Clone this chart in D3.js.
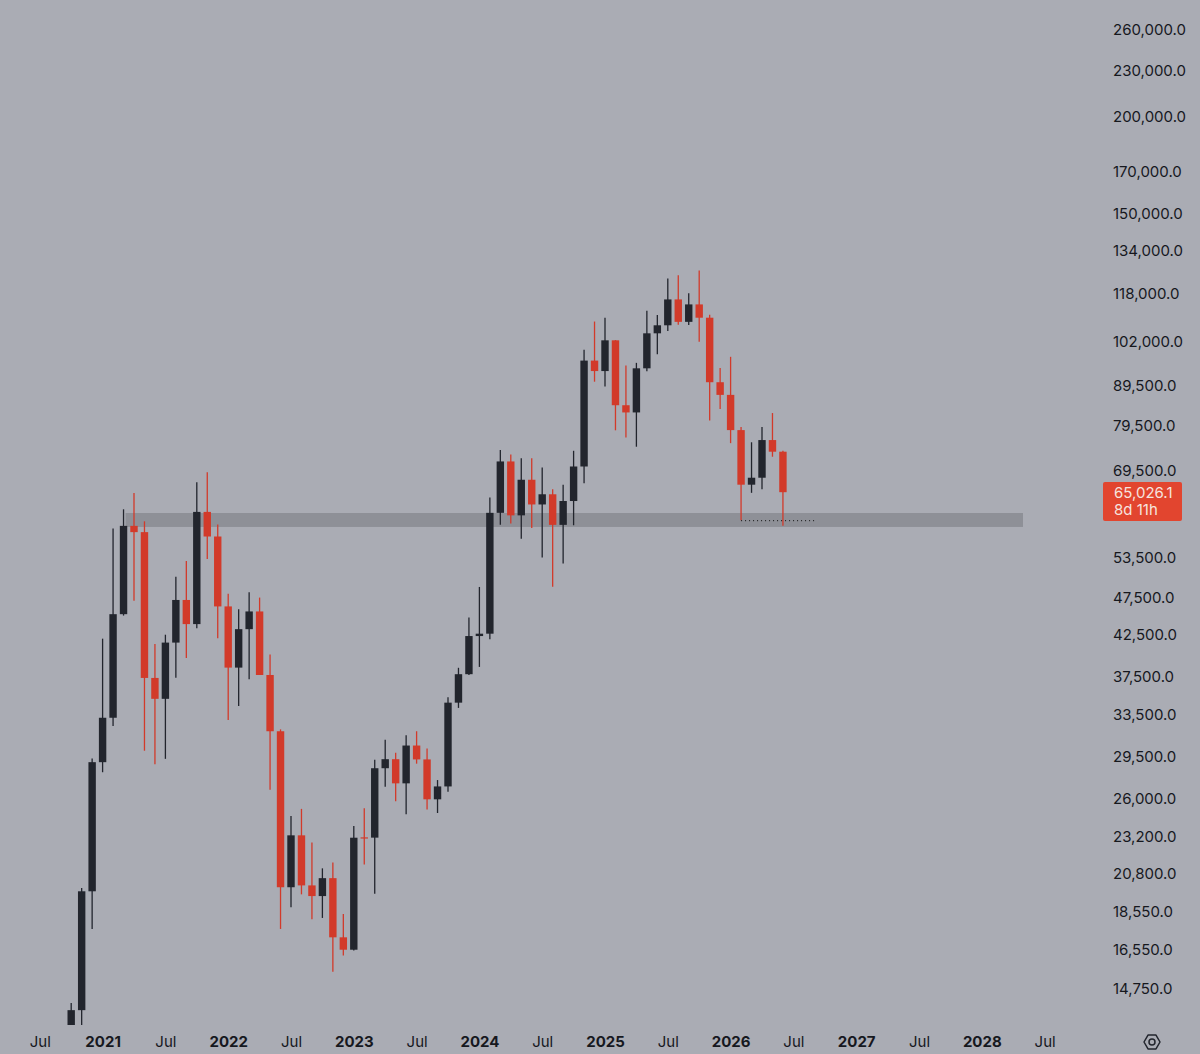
<!DOCTYPE html>
<html>
<head>
<meta charset="utf-8">
<script src="https://cdn.jsdelivr.net/npm/d3@7"></script>
<style>
  html, body { margin: 0; padding: 0; background: #aaacb4; }
  svg { display: block; }
  .axis text { font-family: Inter, "Noto Sans", sans-serif; fill: #16181e; }
</style>
</head>
<body>
<div id="chart-area"></div>
<script>
// monthly candles, Oct 2020 .. Jun 2026
const months = [
	"2020-10","2020-11","2020-12",
	"2021-01","2021-02","2021-03","2021-04","2021-05","2021-06","2021-07","2021-08","2021-09","2021-10","2021-11","2021-12",
	"2022-01","2022-02","2022-03","2022-04","2022-05","2022-06","2022-07","2022-08","2022-09","2022-10","2022-11","2022-12",
	"2023-01","2023-02","2023-03","2023-04","2023-05","2023-06","2023-07","2023-08","2023-09","2023-10","2023-11","2023-12",
	"2024-01","2024-02","2024-03","2024-04","2024-05","2024-06","2024-07","2024-08","2024-09","2024-10","2024-11","2024-12",
	"2025-01","2025-02","2025-03","2025-04","2025-05","2025-06","2025-07","2025-08","2025-09","2025-10","2025-11","2025-12",
	"2026-01","2026-02","2026-03","2026-04","2026-05","2026-06"
];
const opens = [
	10776, 13804, 19700,
	28990, 33110, 45140, 58790, 57700, 37300, 35040, 41460, 47100, 43820, 61300, 56950,
	46200, 38470, 43160, 45510, 37630, 31800, 19940, 23290, 20050, 19420, 20490, 17165,
	16540, 23150, 23130, 28470, 29250, 27210, 30470, 29230, 25940, 26960, 34640, 37720,
	42280, 42580, 61130, 71290, 60670, 67490, 62680, 64620, 58970, 63330, 70220, 96400,
	93430, 102430, 84350, 82550, 94200, 104600, 107140, 115760, 108250, 114050, 109600, 90360,
	87000, 78300, 66500, 67900, 76000, 73400
];
const highs = [
	14100, 19900, 29300,
	41950, 58350, 61780, 64850, 59600, 41300, 42450, 50500, 52920, 67000, 69000, 59050,
	47990, 45800, 48190, 47440, 40000, 31980, 24670, 25210, 22800, 21100, 21480, 18400,
	23950, 25250, 29200, 31000, 29820, 31430, 31800, 30200, 27480, 35200, 38450, 44700,
	48970, 64000, 73780, 72800, 71980, 71950, 70000, 65600, 66500, 73600, 99600, 108350,
	109600, 102500, 95000, 95750, 111900, 110500, 123200, 124450, 117900, 126200, 110600, 94300,
	97500, 79000, 75500, 79000, 82400, 73600
];
const lows = [
	10400, 13200, 17600,
	28130, 32300, 44950, 47000, 30000, 28800, 29280, 37330, 39600, 43280, 53250, 42000,
	32900, 34300, 37150, 37700, 26700, 17600, 18780, 19520, 18125, 18190, 15480, 16260,
	16500, 21350, 19550, 26940, 25800, 24800, 28860, 25170, 24900, 26540, 34100, 37620,
	38550, 41880, 59000, 59190, 56550, 58400, 53500, 49000, 52550, 58900, 66800, 90500,
	89200, 78250, 76600, 74500, 93400, 98250, 105300, 107300, 107250, 102000, 80600, 83400,
	75300, 59800, 64900, 65600, 72300, 58800
];
const closes = [
	13804, 19700, 28990,
	33110, 45140, 58790, 57700, 37300, 35040, 41460, 47100, 43820, 61300, 56950, 46200,
	38470, 43160, 45510, 37630, 31800, 19940, 23290, 20050, 19420, 20490, 17165, 16540,
	23125, 23130, 28470, 29250, 27210, 30470, 29230, 25940, 26960, 34640, 37720, 42280,
	42580, 61130, 71290, 60670, 67490, 62680, 64620, 58970, 63330, 70220, 96400, 93430,
	102430, 84350, 82550, 94200, 104600, 107140, 115760, 108250, 114050, 109600, 90360, 87000,
	78300, 66500, 67900, 76000, 73400, 65026.1
];

const priceTicks = [260000, 230000, 200000, 170000, 150000, 134000, 118000, 102000, 89500, 79500, 69500,
	53500, 47500, 42500, 37500, 33500, 29500, 26000, 23200, 20800, 18550, 16550, 14750];
// month index from Jan 2021, label
const timeTicks = [
	[-6, "Jul"], [0, "2021"], [6, "Jul"], [12, "2022"], [18, "Jul"], [24, "2023"], [30, "Jul"],
	[36, "2024"], [42, "Jul"], [48, "2025"], [54, "Jul"], [60, "2026"], [66, "Jul"],
	[72, "2027"], [78, "Jul"], [84, "2028"], [90, "Jul"]
];
const zoneLow = 58600, zoneHigh = 61100;
const zoneStart = "2021-03";
const lastLowMonth = "2026-02";

const W = 1200, H = 1054;
const plotRight = 1100, plotBottom = 1025;

const svg = d3.select("#chart-area").append("svg")
	.attr("width", W)
	.attr("height", H);

svg.append("rect").attr("width", W).attr("height", H).attr("fill", "#aaacb4");

const monthIndex = m => {
	const [yy, mm] = m.split("-").map(Number);
	return (yy - 2021) * 12 + (mm - 1);
};

const x = d3.scaleLinear()
	.domain([0, 36])
	.range([102.6, 479.4]);

const y = d3.scaleLog()
	.domain([14750, 260000])
	.range([988, 29]);

const data = months.map((m, i) => ({
	m, i: monthIndex(m), o: opens[i], h: highs[i], l: lows[i], c: closes[i]
}));

svg.append("clipPath").attr("id", "plot-clip")
	.append("rect").attr("x", 0).attr("y", 0).attr("width", plotRight).attr("height", plotBottom);

const g = svg.append("g").attr("clip-path", "url(#plot-clip)");

// support zone
g.append("rect")
	.attr("x", x(monthIndex(zoneStart)) + 2)
	.attr("y", y(zoneHigh))
	.attr("width", 1023 - x(monthIndex(zoneStart)) - 2)
	.attr("height", y(zoneLow) - y(zoneHigh))
	.attr("fill", "#8e9097");

const bull = "#22252d", bear = "#d23a2a";
const bodyW = 7.4;

const candles = g.selectAll("g.candle").data(data).enter()
	.append("g")
	.attr("class", "candle");

candles.append("line")
	.attr("x1", d => x(d.i))
	.attr("x2", d => x(d.i))
	.attr("y1", d => y(d.h))
	.attr("y2", d => y(d.l))
	.attr("stroke", d => d.c >= d.o ? bull : bear)
	.attr("stroke-width", 1.3);

candles.append("rect")
	.attr("x", d => x(d.i) - bodyW / 2)
	.attr("y", d => y(Math.max(d.o, d.c)))
	.attr("width", bodyW)
	.attr("height", d => Math.max(1.2, Math.abs(y(d.o) - y(d.c))))
	.attr("fill", d => d.c >= d.o ? bull : bear);

// dotted line at last swing low
const lowRow = data.find(d => d.m === lastLowMonth);
g.append("line")
	.attr("x1", x(lowRow.i))
	.attr("x2", x(lowRow.i) + 73)
	.attr("y1", y(lowRow.l) + 0.5)
	.attr("y2", y(lowRow.l) + 0.5)
	.attr("stroke", "#111")
	.attr("stroke-width", 1)
	.attr("stroke-dasharray", "1,3");

// price axis (right)
const yAxis = svg.append("g")
	.attr("class", "axis")
	.attr("transform", `translate(1113,0)`)
	.call(d3.axisRight(y).tickValues(priceTicks).tickSize(0).tickPadding(0)
		.tickFormat(d => d3.format(",.1f")(d)));
yAxis.select(".domain").remove();
yAxis.selectAll("text").attr("font-size", 15).attr("text-anchor", "start").attr("dy", "0.35em");

// last price label
const last = data[data.length - 1];
const lp = svg.append("g");
lp.append("rect")
	.attr("x", 1103).attr("y", 482)
	.attr("width", 79).attr("height", 39)
	.attr("rx", 2)
	.attr("fill", "#e2452f");
lp.append("text")
	.attr("x", 1114).attr("y", 498)
	.attr("font-family", "Inter, 'Noto Sans', sans-serif")
	.attr("font-size", 15)
	.attr("fill", "#f6e3df")
	.text(d3.format(",.1f")(last.c));
lp.append("text")
	.attr("x", 1114).attr("y", 515)
	.attr("font-family", "Inter, 'Noto Sans', sans-serif")
	.attr("font-size", 15)
	.attr("fill", "#f6e3df")
	.text("8d 11h");

// time axis (bottom)
const xAxis = svg.append("g")
	.attr("class", "axis")
	.attr("transform", `translate(0,1042)`)
	.call(d3.axisBottom(x).tickValues(timeTicks.map(t => t[0])).tickSize(0).tickPadding(0)
		.tickFormat((d, i) => timeTicks[i][1]));
xAxis.select(".domain").remove();
xAxis.selectAll("text")
	.attr("font-size", 15)
	.attr("dy", "0.35em")
	.attr("y", 0)
	.attr("font-weight", (d, i) => timeTicks[i][1] === "Jul" ? 400 : 700);

// settings icon
const ic = svg.append("g").attr("transform", "translate(1152,1042)");
ic.append("path")
	.attr("d", d3.range(6).map((k, j) => {
		const a = Math.PI / 3 * k;
		return (j ? "L" : "M") + (8 * Math.cos(a)).toFixed(2) + "," + (8 * Math.sin(a)).toFixed(2);
	}).join("") + "Z")
	.attr("fill", "none")
	.attr("stroke", "#22252d")
	.attr("stroke-width", 1.5)
	.attr("stroke-linejoin", "round");
ic.append("circle")
	.attr("r", 3)
	.attr("fill", "none")
	.attr("stroke", "#22252d")
	.attr("stroke-width", 1.5);
</script>
</body>
</html>
